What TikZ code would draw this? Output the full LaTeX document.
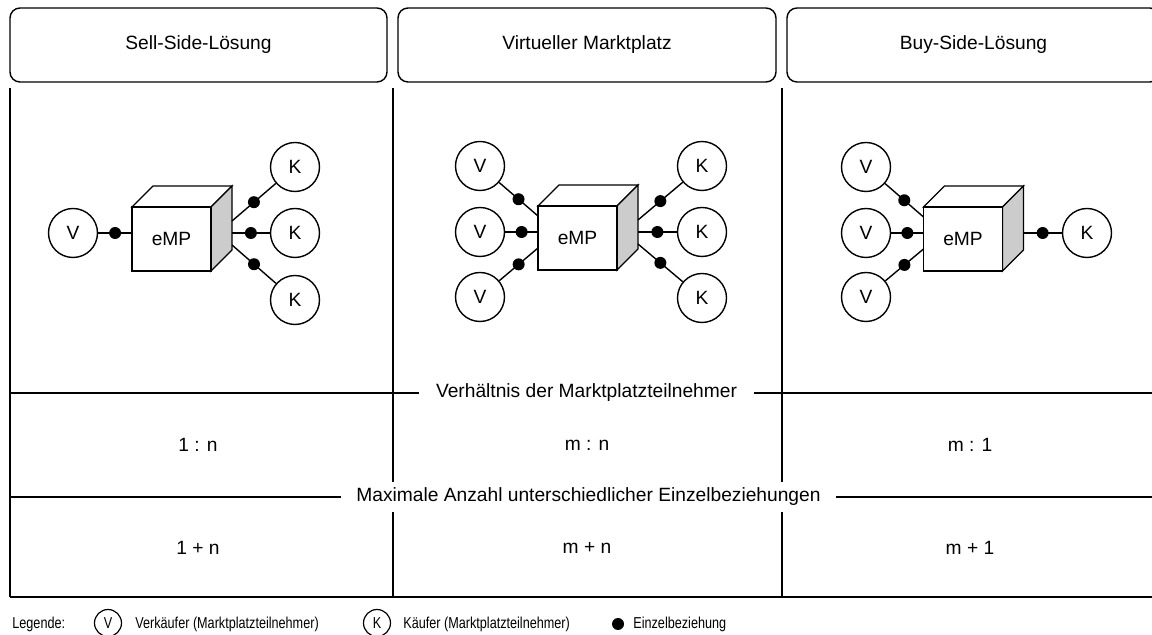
\documentclass[tikz,border=0pt]{standalone}
\usepackage{fontspec}
\setmainfont{Liberation Sans}
\newfontfamily\legendfont{Liberation Sans}[FakeStretch=0.8]
\usetikzlibrary{calc}
\begin{document}
\begin{tikzpicture}[x=0.5pt,y=-0.5pt,
  font=\fontsize{9.6pt}{11.5pt}\selectfont,
  thin line/.style={line width=0.7pt},
  headbox/.style={draw, line width=0.7pt, rounded corners=5pt,
    minimum height=37pt, inner sep=0pt},
  party/.style={draw, circle, fill=white, line width=0.7pt,
    minimum size=24.5pt, inner sep=0pt},
  reldot/.style={circle, fill=black, draw=none, inner sep=0pt, minimum size=6pt},
  rowlabel/.style={fill=white, inner xsep=7.5pt, inner ysep=3pt},
  legendtext/.style={anchor=west, inner sep=0pt,
    font=\legendfont\fontsize{7.9pt}{9pt}\selectfont},
  legendparty/.style={draw, circle, line width=0.6pt, minimum size=13.5pt,
    inner sep=0pt, font=\legendfont\fontsize{7.9pt}{9pt}\selectfont},
  cube/.pic={
    % top face
    \draw[line width=0.7pt, fill=white]
      (-39.5,-32) -- (-18.5,-53) -- (60.5,-53) -- (39.5,-32) -- cycle;
    % shaded side face
    \draw[line width=0.7pt, fill=black!20]
      (39.5,-32) -- (60.5,-53) -- (60.5,11) -- (39.5,32) -- cycle;
    % front face with label
    \node[draw, line width=0.7pt, fill=white, minimum width=39.5pt,
      minimum height=32pt, inner sep=0pt] (-front) at (0,0) {eMP};
    % attachment points for the relations
    \coordinate (-l1) at (-39.5,-22);
    \coordinate (-l2) at (-39.5,-6);
    \coordinate (-l3) at (-39.5,10);
    \coordinate (-r1) at (60.5,-18);
    \coordinate (-r2) at (60.5,-6);
    \coordinate (-r3) at (60.5,6);
  }
]
\useasboundingbox (0,0) rectangle (1152,635);
\begin{scope}
\clip (0,0) rectangle (1152,635);

% column headers
\node[headbox, minimum width=188.5pt] (h1) at (198.5,45) {Sell-Side-Lösung};
\node[headbox, minimum width=189pt] (h2) at (587,45) {Virtueller Marktplatz};
\node[headbox, minimum width=186.5pt] (h3) at (973.5,45) {Buy-Side-Lösung};

% table grid
\coordinate (g0t) at (10,88);   \coordinate (g0b) at (10,597);
\coordinate (g1t) at (393,88);  \coordinate (g1b) at (393,597);
\coordinate (g2t) at (782,88);  \coordinate (g2b) at (782,597);
\coordinate (ra) at (10,393);   \coordinate (rae) at (1160,393);
\coordinate (rb) at (10,497);   \coordinate (rbe) at (1160,497);
\coordinate (rc) at (10,597);   \coordinate (rce) at (1160,597);
\draw[thin line] (g0t) -- (g0b);
\draw[thin line] (g1t) -- (g1b);
\draw[thin line] (g2t) -- (g2b);
\draw[thin line] (ra) -- (rae);
\draw[thin line] (rb) -- (rbe);
\draw[thin line] (rc) -- (rce);

% row captions on the grid lines
\node[rowlabel, inner xsep=8.5pt] (capa) at (586.5,393) {Verhältnis der Marktplatzteilnehmer};
\node[rowlabel] (capb) at (588.5,497) {Maximale Anzahl unterschiedlicher Einzelbeziehungen};

% ratios and counts
\node (v11) at (198,445) {1 : n};
\node (v12) at (587,445) {m : n};
\node (v13) at (970,445) {m : 1};
\node (v21) at (198,548) {1 + n};
\node (v22) at (587,548) {m + n};
\node (v23) at (970,548) {m + 1};

% Sell-side solution
\pic (c1) at (171.5,239) {cube};
\node[party] (a1) at (73,233) {V};
\node[party] (a2) at (295,167) {K};
\node[party] (a3) at (295,233) {K};
\node[party] (a4) at (295,300) {K};
\draw[thin line] (a1) -- node[reldot] {} (c1-l2);
\draw[thin line] (c1-r1) -- node[reldot] {} (a2);
\draw[thin line] (c1-r2) -- node[reldot] {} (a3);
\draw[thin line] (c1-r3) -- node[reldot] {} (a4);

% virtual marketplace
\pic (c2) at (577.5,238) {cube};
\node[party] (b1) at (480,166) {V};
\node[party] (b2) at (480,232) {V};
\node[party] (b3) at (480,297) {V};
\node[party] (b4) at (702,166) {K};
\node[party] (b5) at (702,232) {K};
\node[party] (b6) at (702,298) {K};
\draw[thin line] (b1) -- node[reldot] {} (c2-l1);
\draw[thin line] (b2) -- node[reldot] {} (c2-l2);
\draw[thin line] (b3) -- node[reldot] {} (c2-l3);
\draw[thin line] (c2-r1) -- node[reldot] {} (b4);
\draw[thin line] (c2-r2) -- node[reldot] {} (b5);
\draw[thin line] (c2-r3) -- node[reldot] {} (b6);

% buy-side solution
\pic (c3) at (963,239) {cube};
\node[party] (d1) at (866,167) {V};
\node[party] (d2) at (866,233) {V};
\node[party] (d3) at (866,297) {V};
\node[party] (d4) at (1087,233) {K};
\draw[thin line] (d1) -- node[reldot] {} (c3-l1);
\draw[thin line] (d2) -- node[reldot] {} (c3-l2);
\draw[thin line] (d3) -- node[reldot] {} (c3-l3);
\draw[thin line] (c3-r2) -- node[reldot] {} (d4);

% legend
\node[legendtext] (lg) at (12,624) {Legende:};
\node[legendparty] (lv) at (108,623) {V};
\node[legendtext] (lvt) at (135,624) {Verkäufer (Marktplatzteilnehmer)};
\node[legendparty] (lk) at (377,623) {K};
\node[legendtext] (lkt) at (403,624) {Käufer (Marktplatzteilnehmer)};
\node[reldot, minimum size=6pt] (ld) at (618,624) {};
\node[legendtext] (ldt) at (633,624) {Einzelbeziehung};
\end{scope}
\end{tikzpicture}
\end{document}
